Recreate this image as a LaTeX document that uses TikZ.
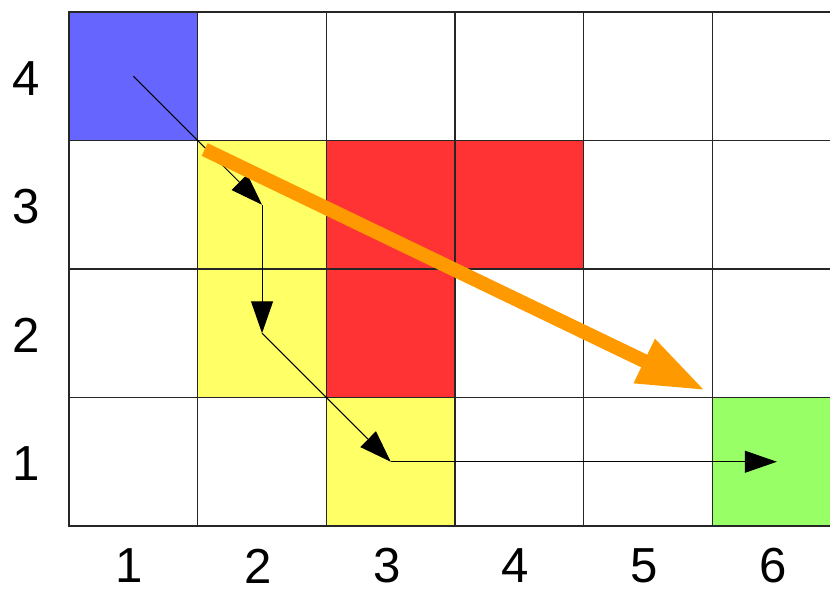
\documentclass[tikz,border=0pt]{standalone}
\usepackage{fontspec}
\setmainfont{Liberation Sans}
\usetikzlibrary{arrows.meta}

\definecolor{startblue}{HTML}{6666FF}
\definecolor{stepyellow}{HTML}{FFFF66}
\definecolor{wallred}{HTML}{FF3333}
\definecolor{goalgreen}{HTML}{99FF66}
\definecolor{shortorange}{HTML}{FF9900}

\begin{document}
\begin{tikzpicture}[
    x=0.02cm, y=-0.02cm,
    cell/.style={draw=black!85, line width=0.025cm, minimum width=2.574cm, minimum height=2.57cm,
                 inner sep=0pt, outer sep=0pt, anchor=north west},
    num/.style={font=\fontsize{28}{30}\selectfont, inner sep=1pt},
    route/.style={-{Triangle[length=0.64cm,width=0.44cm]}, line width=0.02cm},
    shortcut/.style={-{Triangle[length=1.36cm,width=0.9cm]}, draw=shortorange, line width=0.28cm}
]
    \useasboundingbox (0,0) rectangle (830,596);
    \clip (0,0) rectangle (830,596);

    % grid of cells
    \foreach \c in {1,...,6}
        \foreach \r in {1,...,4}
            \node[cell] (c\c-\r) at ({69+128.7*(\c-1)},{12+128.5*(4-\r)}) {};

    % coloured cells
    \foreach \cl/\cc in {c1-4/startblue, c2-3/stepyellow, c2-2/stepyellow, c3-1/stepyellow,
                         c3-3/wallred, c4-3/wallred, c3-2/wallred, c6-1/goalgreen}
        \node[cell, fill=\cc] at (\cl.north west) {};

    % axis numbers
    \foreach \r in {1,...,4}
        \node[num] (row\r) at ([xshift=-0.86cm, yshift=-0.04cm]c1-\r.west) {\r};
    \foreach \c in {1,...,6}
        \node[num] (col\c) at ([xshift=-0.08cm, yshift=-0.8cm]c\c-1.south) {\c};

    % step by step route
    \path[route] (c1-4.center) edge (c2-3.center)
                 (c2-3.center) edge (c2-2.center)
                 (c2-2.center) edge (c3-1.center)
                 (c3-1.center) edge (c6-1.center);

    % direct shortcut
    \coordinate (sc-start) at ([shift={(7,9)}]c2-3.north west);
    \coordinate (sc-end)   at ([shift={(-7,-7)}]c6-1.north west);
    \draw[shortcut] (sc-start) -- (sc-end);
\end{tikzpicture}
\end{document}
